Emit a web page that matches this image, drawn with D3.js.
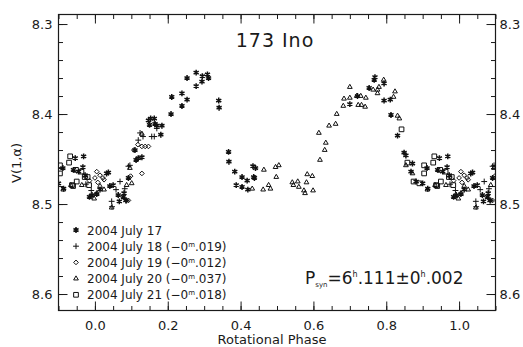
<!DOCTYPE html>
<html>
<head>
<meta charset="utf-8">
<script src="https://cdn.jsdelivr.net/npm/d3@7"></script>
<style>
  body { margin: 0; background: #fff; }
  text { font-family: "DejaVu Sans", sans-serif; fill: #1a1a1a; }
</style>
</head>
<body>
<script>
// 173 Ino composite lightcurve, [rotational phase, V(1,alpha)]
// phases are kept in 0..1, points near the ends get repeated outside that range
const july17 = [
  [0.005, 8.489], [0.014, 8.484], [0.032, 8.466], [0.037, 8.465], [0.041, 8.480], [0.050, 8.479],
  [0.064, 8.490], [0.067, 8.497], [0.078, 8.492], [0.080, 8.488], [0.085, 8.496], [0.092, 8.471],
  [0.110, 8.440], [0.113, 8.451], [0.119, 8.449], [0.129, 8.448], [0.147, 8.407], [0.150, 8.412],
  [0.153, 8.405], [0.163, 8.405], [0.165, 8.411], [0.170, 8.413], [0.184, 8.413], [0.181, 8.423],
  [0.209, 8.400], [0.211, 8.381], [0.239, 8.377], [0.239, 8.391], [0.253, 8.384], [0.253, 8.360],
  [0.278, 8.354], [0.278, 8.369], [0.294, 8.364], [0.295, 8.358], [0.309, 8.356], [0.312, 8.360],
  [0.340, 8.385], [0.341, 8.393], [0.367, 8.442], [0.368, 8.453], [0.384, 8.464], [0.388, 8.479],
  [0.404, 8.470], [0.404, 8.481], [0.418, 8.474], [0.420, 8.484], [0.434, 8.458], [0.436, 8.470],
  [0.438, 8.471], [0.441, 8.460], [0.700, 8.389], [0.721, 8.380], [0.753, 8.371], [0.767, 8.362],
  [0.769, 8.359], [0.794, 8.366], [0.794, 8.385], [0.811, 8.384], [0.813, 8.401], [0.831, 8.424],
  [0.849, 8.443], [0.854, 8.446], [0.868, 8.464], [0.872, 8.455], [0.882, 8.475], [0.900, 8.477],
  [0.912, 8.460], [0.914, 8.483], [0.941, 8.462], [0.946, 8.449], [0.955, 8.464], [0.967, 8.459],
  [0.969, 8.447], [0.973, 8.468], [0.985, 8.492], [0.992, 8.490]
];
const july18 = [
  [0.046, 8.497], [0.047, 8.503], [0.058, 8.484], [0.069, 8.475], [0.082, 8.483], [0.087, 8.496],
  [0.092, 8.458], [0.096, 8.457], [0.119, 8.429], [0.124, 8.421], [0.132, 8.425], [0.156, 8.425],
  [0.163, 8.425], [0.170, 8.416], [0.975, 8.478], [0.990, 8.485]
];
const july19 = [
  [0.000, 8.471], [0.005, 8.464], [0.008, 8.476], [0.014, 8.468], [0.022, 8.471], [0.025, 8.473],
  [0.092, 8.496], [0.098, 8.469], [0.107, 8.440], [0.118, 8.434], [0.129, 8.436], [0.138, 8.436],
  [0.147, 8.436], [0.129, 8.466], [0.975, 8.470], [0.985, 8.474]
];
const july20 = [
  [0.005, 8.488], [0.014, 8.480], [0.025, 8.484], [0.046, 8.504], [0.087, 8.479], [0.096, 8.460],
  [0.101, 8.477], [0.129, 8.422], [0.432, 8.483], [0.462, 8.484], [0.464, 8.462], [0.477, 8.479],
  [0.482, 8.483], [0.496, 8.459], [0.498, 8.470], [0.505, 8.457], [0.542, 8.476], [0.545, 8.479],
  [0.557, 8.475], [0.560, 8.481], [0.574, 8.485], [0.577, 8.488], [0.581, 8.476], [0.583, 8.467],
  [0.597, 8.469], [0.599, 8.485], [0.615, 8.421], [0.618, 8.451], [0.631, 8.440], [0.634, 8.432],
  [0.643, 8.413], [0.661, 8.411], [0.664, 8.400], [0.682, 8.391], [0.684, 8.383], [0.700, 8.370],
  [0.700, 8.382], [0.719, 8.380], [0.723, 8.390], [0.730, 8.380], [0.732, 8.390], [0.742, 8.392],
  [0.744, 8.382], [0.764, 8.373], [0.776, 8.373], [0.776, 8.377], [0.780, 8.370], [0.793, 8.362],
  [0.820, 8.381], [0.824, 8.375], [0.831, 8.402], [0.836, 8.405], [0.854, 8.457], [0.872, 8.466],
  [0.913, 8.484], [0.934, 8.479], [0.964, 8.479], [0.998, 8.494]
];
const july21 = [
  [0.842, 8.417], [0.858, 8.454], [0.875, 8.475], [0.891, 8.477], [0.904, 8.457], [0.904, 8.466],
  [0.929, 8.454], [0.932, 8.447], [0.937, 8.479], [0.940, 8.480], [0.948, 8.462], [0.950, 8.475],
  [0.963, 8.464], [0.972, 8.470], [0.980, 8.470], [0.984, 8.479]
];

const legendDates = ['2004 July 17', '2004 July 18', '2004 July 19', '2004 July 20', '2004 July 21'];
const legendShifts = [null, '019', '012', '037', '018'];

const xTicks = [0.0, 0.2, 0.4, 0.6, 0.8, 1.0];
const yTicks = [8.3, 8.4, 8.5, 8.6];

const width = 523;
const height = 347;
const margin = { top: 14.5, right: 27.5, bottom: 36.5, left: 58.5 };

const svg = d3.select('body')
  .append('svg')
  .attr('width', width)
  .attr('height', height);

const x = d3.scaleLinear()
  .domain([-0.1, 1.1])
  .range([margin.left, width - margin.right]);

// magnitudes: brighter is up
const y = d3.scaleLinear()
  .domain([8.2894, 8.6183])
  .range([margin.top, height - margin.bottom]);

svg.append('clipPath')
  .attr('id', 'plot-clip')
  .append('rect')
  .attr('x', x(-0.1))
  .attr('y', y(8.2894))
  .attr('width', x(1.1) - x(-0.1))
  .attr('height', y(8.6183) - y(8.2894));

// minor ticks, 0.05 in phase and 0.02 in mag
const xMinor = d3.range(-2, 23).map(i => +(i * 0.05).toFixed(2));
const yMinor = d3.range(0, 16).map(i => +(8.3 + i * 0.02).toFixed(2));

function axisGroup(axis, tx, ty) {
  const g = svg.append('g')
    .attr('transform', 'translate(' + tx + ',' + ty + ')')
    .call(axis);
  g.select('.domain').remove();
  g.selectAll('line').attr('stroke', '#1a1a1a');
  g.selectAll('text').style('font-size', '13px').style('font-family', '"DejaVu Sans", sans-serif').attr('fill', '#1a1a1a');
  return g;
}

const bottomY = y(8.6183);
const topY = y(8.2894);
const leftX = x(-0.1);
const rightX = x(1.1);

// bottom + top
axisGroup(d3.axisBottom(x).tickValues(xMinor).tickSize(-4.5).tickFormat(''), 0, bottomY);
axisGroup(d3.axisBottom(x).tickValues(xTicks).tickSize(-9).tickPadding(10).tickFormat(d3.format('.1f')), 0, bottomY);
axisGroup(d3.axisTop(x).tickValues(xMinor).tickSize(-4.5).tickFormat(''), 0, topY);
axisGroup(d3.axisTop(x).tickValues(xTicks).tickSize(-9).tickFormat(''), 0, topY);

// left + right
axisGroup(d3.axisLeft(y).tickValues(yMinor).tickSize(-4.5).tickFormat(''), leftX, 0);
axisGroup(d3.axisLeft(y).tickValues(yTicks).tickSize(-9).tickPadding(6).tickFormat(d3.format('.1f')), leftX, 0);
axisGroup(d3.axisRight(y).tickValues(yMinor).tickSize(-4.5).tickFormat(''), rightX, 0);
axisGroup(d3.axisRight(y).tickValues(yTicks).tickSize(-9).tickPadding(4).tickFormat(d3.format('.1f')), rightX, 0);

// frame
svg.append('rect')
  .attr('x', leftX)
  .attr('y', topY)
  .attr('width', rightX - leftX)
  .attr('height', bottomY - topY)
  .attr('fill', 'none')
  .attr('stroke', '#1a1a1a')
  .attr('stroke-width', 1.2);

// one entry per night: data, symbol type and size
const nights = [
  { data: july17, type: d3.symbolAsterisk, size: 24, sw: 1.5 },
  { data: july18, type: d3.symbolPlus, size: 13, sw: 1 },
  { data: july19, type: d3.symbolDiamond2, size: 14, sw: 1 },
  { data: july20, type: d3.symbolTriangle2, size: 16, sw: 1 },
  { data: july21, type: d3.symbolSquare2, size: 28, sw: 1 }
];

// repeat points near phase 0 / 1 so the -0.1..1.1 range is filled
function wrapPhase(data) {
  const out = [];
  data.forEach(d => {
    out.push(d);
    if (d[0] <= 0.1) out.push([d[0] + 1, d[1]]);
    if (d[0] >= 0.9) out.push([d[0] - 1, d[1]]);
  });
  return out;
}

const points = svg.append('g').attr('clip-path', 'url(#plot-clip)');

nights.forEach(n => {
  points.selectAll(null)
    .data(wrapPhase(n.data))
    .enter()
    .append('path')
    .attr('transform', d => 'translate(' + x(d[0]) + ',' + y(d[1]) + ')')
    .attr('d', d3.symbol().type(n.type).size(n.size))
    .attr('fill', 'none')
    .attr('stroke', '#111')
    .attr('stroke-width', n.sw);
});

// title
svg.append('text')
  .attr('x', 275)
  .attr('y', 47)
  .attr('text-anchor', 'middle')
  .style('font-size', '19px')
  .style('letter-spacing', '1px')
  .text('173 Ino');

// axis titles
svg.append('text')
  .attr('x', 272)
  .attr('y', 344)
  .attr('text-anchor', 'middle')
  .style('font-size', '13px')
  .text('Rotational Phase');

svg.append('text')
  .attr('transform', 'translate(21,163)rotate(-90)')
  .attr('text-anchor', 'middle')
  .style('font-size', '13px')
  .text('V(1,\u03b1)');

// legend
const legend = svg.append('g');
legendDates.forEach((label, i) => {
  const ly = 230 + i * 16.2;
  legend.append('path')
    .attr('transform', 'translate(76,' + ly + ')')
    .attr('d', d3.symbol().type(nights[i].type).size(nights[i].size))
    .attr('fill', 'none')
    .attr('stroke', '#111')
    .attr('stroke-width', nights[i].sw);

  const t = legend.append('text')
    .attr('x', 87)
    .attr('y', ly + 4.5)
    .style('font-size', '12px');
  t.append('tspan').text(label);
  if (legendShifts[i]) {
    t.append('tspan').text(' (\u22120');
    t.append('tspan').attr('dy', -4).style('font-size', '7px').text('m');
    t.append('tspan').attr('dy', 4).text('.' + legendShifts[i] + ')');
  }
});

// synodic period
const per = svg.append('text')
  .attr('x', 305)
  .attr('y', 284)
  .style('font-size', '17px');
per.append('tspan').text('P');
per.append('tspan').attr('dy', 3).style('font-size', '7px').text('syn');
per.append('tspan').attr('dy', -3).text('=6');
per.append('tspan').attr('dy', -7).style('font-size', '8px').text('h');
per.append('tspan').attr('dy', 7).text('.111\u00b10');
per.append('tspan').attr('dy', -7).style('font-size', '8px').text('h');
per.append('tspan').attr('dy', 7).text('.002');
</script>
</body>
